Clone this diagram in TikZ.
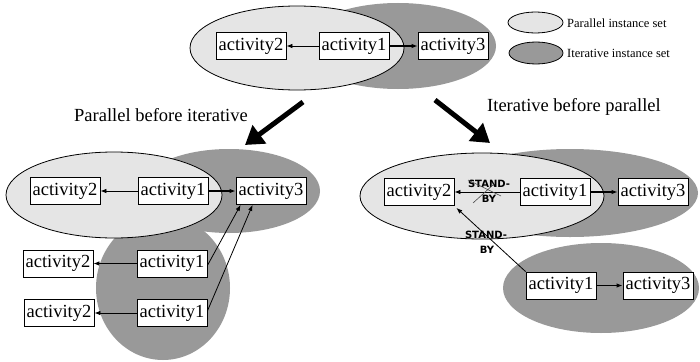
\documentclass[tikz,border=0pt]{standalone}
\usepackage{fontspec}
\setmainfont{Liberation Serif}
\newfontfamily\sbfont{DejaVu Sans}
\usetikzlibrary{arrows.meta}
\definecolor{parfill}{gray}{0.9}
\definecolor{itfill}{gray}{0.6}
\tikzset{
  actbox/.style={draw, fill=white, line width=0.8pt, inner sep=0pt, minimum width=70pt, minimum height=27pt, font=\fontsize{18.5}{20}\selectfont},
  thinarr/.style={-{Latex[length=6pt,width=4.5pt]}, line width=0.8pt},
  thickarr/.style={-{Latex[length=6pt,width=4.5pt]}, line width=1.8pt},
  bigarr/.style={-{Triangle[length=18pt,width=22pt]}, line width=5pt},
  sblabel/.style={font=\sbfont\bfseries\fontsize{10}{11}\selectfont, inner sep=0pt},
  lbl/.style={font=\fontsize{18.5}{20}\selectfont, inner sep=0pt},
  leg/.style={font=\fontsize{12.5}{14}\selectfont, inner sep=0pt, anchor=west},
  parset/.style={fill=parfill, draw=black, line width=0.8pt},
  itset/.style={fill=itfill}
}
\begin{document}
\begin{tikzpicture}[x=1pt,y=-1pt]
\useasboundingbox (0,0) rectangle (700,361);
% legend
\path[parset] (535.5,22.5) ellipse [x radius=27.5, y radius=10.5];
\path[itset, draw=black, line width=0.8pt] (536,53) ellipse [x radius=27, y radius=11];
\node[leg] (lg1) at (567,23) {Parallel instance set};
\node[leg] (lg2) at (567,53) {Iterative instance set};
% top
\path[itset] (398,46) ellipse [x radius=98, y radius=43];
\path[parset] (297,48) ellipse [x radius=107, y radius=42];
\node[actbox] (a2) at (251,46) {activity2};
\node[actbox] (a1) at (354,46) {activity1};
\node[actbox] (a3) at (453,46) {activity3};
\draw[thinarr] (a1) -- (a2);
\draw[thickarr] (a1) -- (a3);
% big arrows and labels
\coordinate (ls) at (303,102);
\coordinate (le) at (245,145);
\coordinate (rs) at (435,100);
\coordinate (re) at (490,143);
\draw[bigarr] (ls) -- (le);
\draw[bigarr] (rs) -- (re);
\node[lbl] (pbi) at (161,115) {Parallel before iterative};
\node[lbl] (ibp) at (574,107) {Iterative before parallel};
% bottom left
\path[itset] (229,191) ellipse [x radius=91, y radius=42];
\path[itset] (163,288) ellipse [x radius=67, y radius=72];
\path[parset] (114,195) ellipse [x radius=108, y radius=43];
\node[actbox] (b2) at (65,191) {activity2};
\node[actbox] (b1) at (173,191) {activity1};
\node[actbox] (b3) at (271,191) {activity3};
\node[actbox] (c2) at (58,263.5) {activity2};
\node[actbox] (c1) at (172,263.5) {activity1};
\node[actbox] (d2) at (59,313) {activity2};
\node[actbox] (d1) at (172,313) {activity1};
\draw[thinarr] (b1) -- (b2);
\draw[thickarr] (b1) -- (b3);
\draw[thinarr] (c1) -- (c2);
\draw[thinarr] (d1) -- (d2);
\draw[thinarr] ([yshift=-2]c1.east) -- ([xshift=5]b3.south west);
\draw[thinarr] ([yshift=2]d1.east) -- ([xshift=17]b3.south west);
% bottom right
\path[itset] (570,193) ellipse [x radius=128, y radius=44];
\path[parset] (482,196) ellipse [x radius=122, y radius=43];
\path[itset] (601,288) ellipse [x radius=98, y radius=45];
\node[actbox] (e2) at (419,192) {activity2};
\node[actbox] (e1) at (555,192) {activity1};
\node[actbox] (e3) at (653,192) {activity3};
\node[actbox] (f1) at (561,285.5) {activity1};
\node[actbox] (f3) at (658,285.5) {activity3};
\draw[thinarr] (e1) -- (e2);
\draw[thickarr] (e1) -- (e3);
\draw[thickarr] (f1) -- (f3);
\draw[thinarr] (f1.north west) -- ([xshift=2,yshift=-2]e2.south east);
\node[sblabel] (sb1) at (489,184) {STAND-};
\node[sblabel] (by1) at (489,199) {BY};
\draw[black!70, line width=0.6pt] (468,180) -- (501,196);
\draw[black!70, line width=0.6pt] (473,203) -- (494,184);
\node[sblabel] (sb2) at (486,235) {STAND-};
\node[sblabel] (by2) at (487,250) {BY};
\end{tikzpicture}
\end{document}
